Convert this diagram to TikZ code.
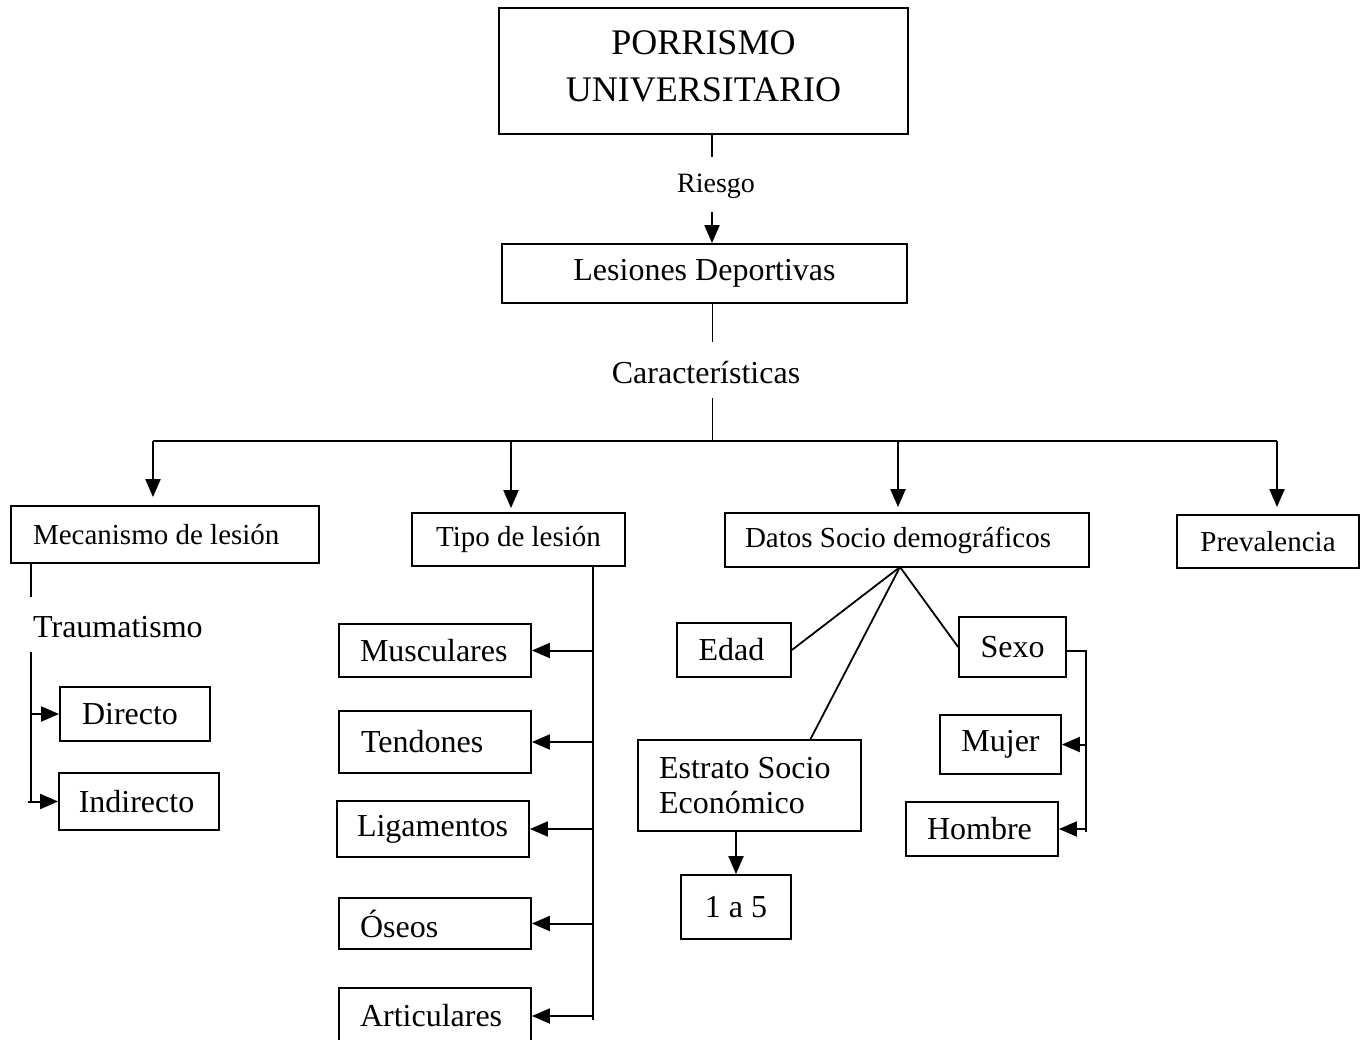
\documentclass[tikz,border=0pt]{standalone}
\usepackage{fontspec}
\setmainfont{Liberation Serif}
\usetikzlibrary{arrows.meta}
\begin{document}
\begin{tikzpicture}[x=1pt,y=-1pt,
  box/.style={draw, line width=1.8pt, inner sep=0pt, font=\fontsize{32}{38}\selectfont},
  hbox/.style={box, font=\fontsize{29}{34}\selectfont},
  ln/.style={line width=1.8pt},
  thinln/.style={line width=1pt},
  arr/.style={line width=2pt, -{Triangle[length=18pt,width=15pt]}},
  lbl/.style={inner sep=0pt, font=\fontsize{32}{38}\selectfont}
]
\useasboundingbox (0,0) rectangle (1367,1040);
% top
\node[box, line width=2.6pt, minimum width=409pt, minimum height=126pt] (title) at (703.5,71) {};
\node[lbl, align=center, font=\fontsize{36}{47}\selectfont] (titletext) at (703.5,66) {PORRISMO\\UNIVERSITARIO};
\node[lbl, font=\fontsize{28}{33}\selectfont] (riesgo) at (716,186) {Riesgo};
\node[box, minimum width=405pt, minimum height=59pt] (les) at (704.5,273.5) {\raisebox{-2pt}{Lesiones Deportivas}};
\node[lbl] (car) at (706,373) {Características};
% level 2
\node[hbox, minimum width=308pt, minimum height=57pt] (mec) at (165,534.5) {\makebox[264pt][l]{Mecanismo de lesión}};
\node[hbox, minimum width=213pt, minimum height=53pt] (tipo) at (518.5,539.5) {\raisebox{-2pt}{Tipo de lesión}};
\node[hbox, minimum width=364pt, minimum height=54pt] (datos) at (907,540) {\makebox[320pt][l]{\hspace*{-2pt}\raisebox{-2pt}{Datos Socio demográficos}}};
\node[hbox, minimum width=182pt, minimum height=53pt] (prev) at (1268,541.5) {Prevalencia};
% mecanismo
\node[lbl, anchor=west] (trau) at (33,627) {Traumatismo};
\node[box, minimum width=150pt, minimum height=54pt] (dir) at (135,714) {\hspace*{-10pt}\raisebox{-2pt}{Directo}};
\node[box, minimum width=160pt, minimum height=57pt] (ind) at (139,801.5) {\hspace*{-5pt}Indirecto};
% tipo
\node[box, minimum width=192pt, minimum height=53pt] (mus) at (435,650.5) {\makebox[150pt][l]{\raisebox{-2pt}{Musculares}}};
\node[box, minimum width=192pt, minimum height=62pt] (ten) at (435,742) {\makebox[150pt][l]{\hspace*{1pt}Tendones}};
\node[box, minimum width=192pt, minimum height=56pt] (lig) at (433,829) {\makebox[152pt][l]{\raisebox{-2pt}{Ligamentos}}};
\node[box, minimum width=192pt, minimum height=51pt] (ose) at (435,923.5) {\makebox[150pt][l]{\raisebox{-2pt}{Óseos}}};
\node[box, minimum width=192pt, minimum height=56pt] (art) at (435,1016) {\makebox[150pt][l]{Articulares}};
% datos
\node[box, minimum width=114pt, minimum height=54pt] (edad) at (734,650) {\hspace*{-5pt}\raisebox{-3pt}{Edad}};
\node[box, minimum width=107pt, minimum height=60pt] (sexo) at (1012.5,647) {Sexo};
\node[box, minimum width=223pt, minimum height=91pt, align=center,
      font=\fontsize{32}{35}\selectfont] (estr) at (749.5,785.5) {\makebox[181pt][l]{Estrato Socio}\\\makebox[181pt][l]{Económico}};
\node[box, minimum width=110pt, minimum height=64pt] (one) at (736,907) {1 a 5};
\node[box, minimum width=121pt, minimum height=59pt] (muj) at (1000.5,744.5) {Mujer};
\node[box, minimum width=152pt, minimum height=54pt] (hom) at (982,829) {\hspace*{-5pt}\raisebox{-3pt}{Hombre}};
% coordinates
\coordinate (r1) at (712,157);
\coordinate (r2) at (712,212);
\coordinate (c1) at (712,342);
\coordinate (c2) at (712,398);
\coordinate (hub) at (712,441);
\coordinate (hl) at (153,441);
\coordinate (hr) at (1277,441);
\coordinate (t0) at (511,441);
\coordinate (d0) at (898,441);
\coordinate (m1) at (31,597);
\coordinate (m2) at (31,652);
\coordinate (m3) at (31,802);
\coordinate (t1) at (593,1020);
\coordinate (fan) at (900,567);
\coordinate (e1) at (810,740);
\coordinate (s1) at (1086,651);
\coordinate (s2) at (1086,832);
% connectors
\draw[ln, line width=2.4pt] (title.south -| r1) -- (r1);
\draw[arr] (r2) -- (les.north -| r2);
\draw[thinln] (les.south -| c1) -- (c1);
\draw[thinln] (c2) -- (hub);
\draw[ln] (hl) -- (hr);
\draw[arr, shorten >=8pt] (hl) -- (hl |- mec.north);
\draw[arr, shorten >=4pt] (t0) -- (t0 |- tipo.north);
\draw[arr, shorten >=5pt] (d0) -- (d0 |- datos.north);
\draw[arr, shorten >=7pt] (hr) -- (hr |- prev.north);
% mecanismo branch
\draw[ln] (mec.south -| m1) -- (m1);
\draw[ln] (m2) -- (m3);
\draw[arr] (m2 |- dir.west) -- (dir.west);
\draw[arr] ([xshift=-3pt]m3 |- ind.west) -- (ind.west);
% tipo branch
\draw[ln] (tipo.south -| t1) -- (t1);
\draw[arr] (t1 |- mus.east) -- (mus.east);
\draw[arr] (t1 |- ten.east) -- (ten.east);
\draw[arr] (t1 |- lig.east) -- (lig.east);
\draw[arr] (t1 |- ose.east) -- (ose.east);
\draw[arr] (t1 |- art.east) -- (art.east);
% datos branch
\draw[ln] (fan) -- (edad.east);
\draw[ln] (fan) -- (e1);
\draw[ln] (fan) -- (sexo.west);
\draw[arr] (one.north |- estr.south) -- (one.north);
\draw[ln] (sexo.east |- s1) -- (s1) -- (s2);
\draw[arr] (s1 |- muj.east) -- (muj.east);
\draw[arr] (s2 |- hom.east) -- (hom.east);
\end{tikzpicture}
\end{document}
